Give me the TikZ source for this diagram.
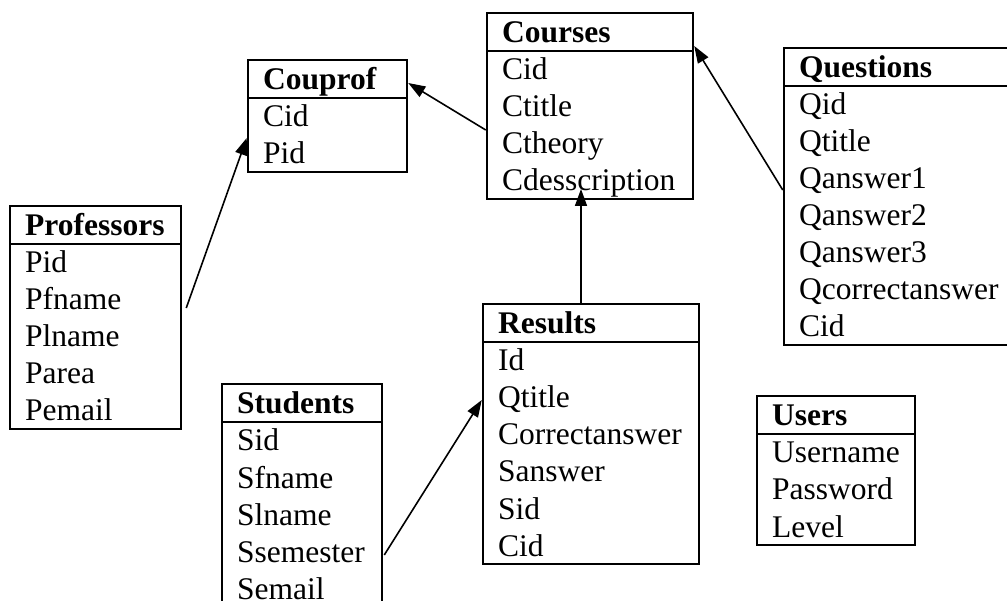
\documentclass[tikz,border=0pt]{standalone}
\usepackage{fontspec}
\setmainfont{Liberation Serif}
\usetikzlibrary{arrows.meta,fit}
\tikzset{
  tablebox/.style={draw, line width=2.5pt, inner sep=0pt},
  sepline/.style={line width=2.5pt},
  headtext/.style={anchor=base west, inner sep=0pt, font=\fontsize{31.5}{37}\selectfont\bfseries},
  fieldtext/.style={anchor=base west, inner sep=0pt, font=\fontsize{31.5}{37}\selectfont},
  conn/.style={line width=1.6pt, -{Triangle[length=17pt,width=12pt]}},
}
% #1 name, #2 left, #3 top, #4 right, #5 number of rows, #6 title, #7 fields
\newcommand{\ertable}[7]{%
  \node[tablebox, fit={(#2,#3) (#4,#3+38+37*#5)}] (#1) {};
  \draw[sepline] (#2,#3+38) -- (#4,#3+38);
  \node[headtext] (#1-title) at (#2+15,#3+30) {#6};
  \foreach \f [count=\i] in {#7} {
    \node[fieldtext] (#1-f\i) at (#2+15,#3+30+37*\i) {\f};
  }%
}
\begin{document}
\begin{tikzpicture}[x=1pt,y=-1pt]
\useasboundingbox (0,0) rectangle (1007,601);
\clip (0,0) rectangle (1007,601);
\ertable{courses}{487}{13}{693}{4}{Courses}{Cid,Ctitle,Ctheory,Cdesscription}
\ertable{couprof}{248}{60}{407}{2}{Couprof}{Cid,Pid}
\ertable{questions}{784}{48}{1015}{7}{Questions}{Qid,Qtitle,Qanswer1,Qanswer2,Qanswer3,Qcorrectanswer,Cid}
\ertable{professors}{10}{206}{181}{5}{Professors}{Pid,Pfname,Plname,Parea,Pemail}
\ertable{results}{483}{304}{699}{6}{Results}{Id,Qtitle,Correctanswer,Sanswer,Sid,Cid}
\ertable{students}{222}{384}{382}{5}{Students}{Sid,Sfname,Slname,Ssemester,Semail}
\ertable{users}{757}{396}{915}{3}{Users}{Username,Password,Level}
% connectors
\draw[conn] (courses.west |- 0,130) -- (couprof.east |- 0,83);
\draw[conn] ([xshift=4pt]professors.east |- 0,308) -- (couprof.west |- 0,138);
\draw[conn] (questions.west |- 0,190) -- (courses.east |- 0,46);
\draw[conn] (results.north -| 581,0) -- (581,189);
\draw[conn] ([xshift=1pt]students.east |- 0,555) -- (results.west |- 0,400);
\end{tikzpicture}
\end{document}
